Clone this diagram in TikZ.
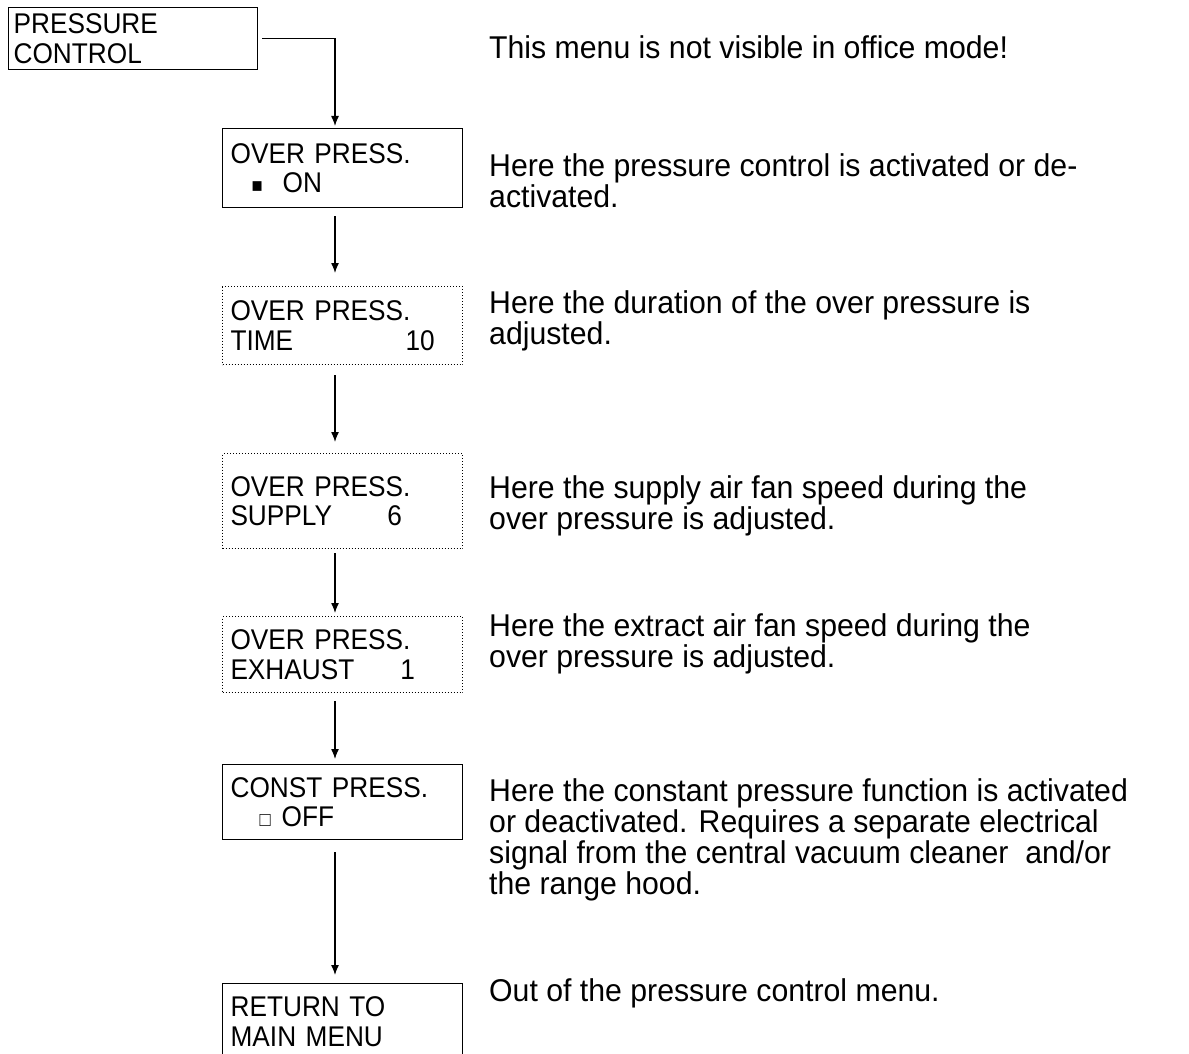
\documentclass[tikz,border=0pt]{standalone}
\usepackage{fontspec}
\setmainfont[FakeStretch=0.92]{Liberation Sans}
\newfontfamily\notefont[FakeStretch=0.96]{Liberation Sans}
\usetikzlibrary{arrows.meta}
\setlength{\lineskiplimit}{-50pt}
\begin{document}
\begin{tikzpicture}[x=1pt,y=-1pt,
    menu/.style={draw, line width=1.3pt, anchor=north west, inner ysep=0pt, inner xsep=8pt,
      text width=224pt, align=left, font=\fontsize{28.5}{29.5}\selectfont},
    setting/.style={menu, line width=1pt, dotted},
    note/.style={anchor=north west, inner sep=0pt, align=left,
      font=\notefont\fontsize{31.5}{31}\selectfont},
    flow/.style={-{Latex[length=10pt,width=8pt]}, line width=1.3pt, shorten <=8pt}]
  \clip (0,0) rectangle (1189,1054);
  \coordinate (spine) at (335,0);
  %menu boxes
  \node[menu, inner xsep=5pt, text width=239pt, minimum height=62pt] (ctrl) at (8,7) {PRESSURE\\CONTROL};
  \node[menu, minimum height=79pt] (over) at (222,128)
    {OVER PRESS.\\\hspace*{21pt}\makebox[31pt][l]{\fontsize{20}{20}\selectfont ■}ON};
  \node[setting, minimum height=78pt] (time) at (222,286)
    {OVER PRESS.\\\makebox[175pt][l]{TIME}10};
  \node[setting, minimum height=95pt] (supply) at (222,453)
    {OVER PRESS.\\\makebox[157pt][l]{SUPPLY}6};
  \node[setting, minimum height=76pt] (exhaust) at (222,616)
    {OVER PRESS.\\\makebox[170pt][l]{EXHAUST}1};
  \node[menu, minimum height=75pt] (const) at (222,764)
    {CONST PRESS.\\\hspace*{29pt}\makebox[22pt][l]{\fontsize{20}{20}\selectfont □}OFF};
  \node[menu, minimum height=76pt] (back) at (222,983) {RETURN TO\\MAIN MENU};
  %arrows
  \draw[flow, shorten <=4pt, shorten >=2pt] (ctrl.east) -| (spine |- over.north);
  \draw[flow, shorten >=13pt] (over.south -| spine) -- (time.north -| spine);
  \draw[flow, shorten <=10pt, shorten >=11pt] (time.south -| spine) -- (supply.north -| spine);
  \draw[flow, shorten <=4pt, shorten >=3pt] (supply.south -| spine) -- (exhaust.north -| spine);
  \draw[flow, shorten >=5pt] (exhaust.south -| spine) -- (const.north -| spine);
  \draw[flow, shorten <=12pt, shorten >=8pt] (const.south -| spine) -- (back.north -| spine);
  %notes
  \node[note] (n0) at (489,35.5) {This menu is not visible in office mode!};
  \node[note] (n1) at (489,153) {Here the pressure control is activated or de-\\activated.};
  \node[note] (n2) at (489,290) {Here the duration of the over pressure is\\adjusted.};
  \node[note] (n3) at (489,475) {Here the supply air fan speed during the\\over pressure is adjusted.};
  \node[note] (n4) at (489,613) {Here the extract air fan speed during the\\over pressure is adjusted.};
  \node[note] (n5) at (489,778) {Here the constant pressure function is activated\\or deactivated. Requires a separate electrical\\signal from the central vacuum cleaner\ \ and/or\\the range hood.};
  \node[note] (n6) at (489,978) {Out of the pressure control menu.};
\end{tikzpicture}
\end{document}
